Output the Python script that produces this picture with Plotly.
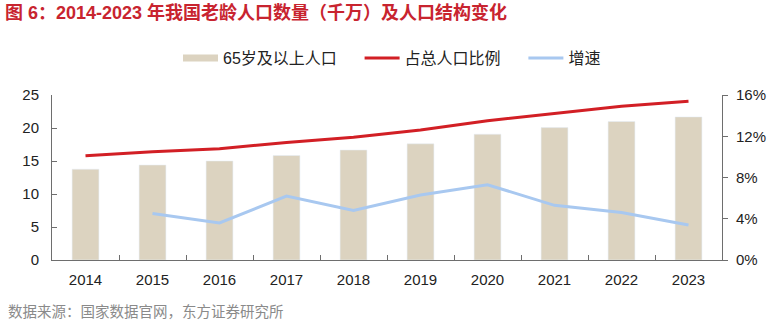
import plotly.graph_objects as go

years = ["2014", "2015", "2016", "2017", "2018", "2019", "2020", "2021", "2022", "2023"]
elderly = [13.76, 14.39, 15.00, 15.83, 16.66, 17.60, 19.06, 20.06, 20.98, 21.68]  # 千万
share = [0.101, 0.105, 0.108, 0.114, 0.119, 0.126, 0.135, 0.142, 0.149, 0.154]
growth_years = years[1:]
growth = [0.045, 0.036, 0.062, 0.048, 0.063, 0.073, 0.053, 0.046, 0.034]

left_ticks = [0, 5, 10, 15, 20, 25]
right_ticks = [0, 0.04, 0.08, 0.12, 0.16]
right_ticktext = ["0%", "4%", "8%", "12%", "16%"]

BAR = "#dcd3c0"
RED = "#d21f25"
BLUE = "#a8c8f0"
AXIS = "#6e6e6e"
FONT = "Liberation Sans, Arial, Noto Sans CJK SC, sans-serif"
PAD = "\u00a0" * 4  # extra spacing between legend entries

fig = go.Figure()
fig.add_trace(go.Bar(x=years, y=elderly, marker_color=BAR, width=0.4,
                     name="65岁及以上人口", showlegend=False))
# legend stand-in for the bar series (wide flat swatch as in the reference)
fig.add_trace(go.Scatter(x=[None], y=[None], mode="lines",
                         line=dict(color=BAR, width=7), name="65岁及以上人口" + PAD))
fig.add_trace(go.Scatter(x=years, y=share, mode="lines", yaxis="y2",
                         line=dict(color=RED, width=3), name="占总人口比例" + PAD))
fig.add_trace(go.Scatter(x=growth_years, y=growth, mode="lines", yaxis="y2",
                         line=dict(color=BLUE, width=3), name="增速"))

fig.update_layout(
    width=777, height=322,
    margin=dict(l=52, r=55, t=95, b=62),
    paper_bgcolor="white", plot_bgcolor="white",
    font=dict(family=FONT, size=15, color="#222222"),
    title=dict(text="<b>图 6：2014-2023 年我国老龄人口数量（千万）及人口结构变化</b>",
               x=5/777, xref="container", xanchor="left",
               y=1-13/322, yref="container", yanchor="middle",
               font=dict(size=18, color="#c8242f", family=FONT)),
    legend=dict(orientation="h", x=(178-52)/670, xanchor="left", y=1+(95-58)/165, yanchor="middle",
                font=dict(size=16, color="#222222"), itemwidth=35,
                bgcolor="rgba(0,0,0,0)"),
    xaxis=dict(type="category", showline=True, linecolor=AXIS, linewidth=1,
               ticks="inside", ticklen=5, tickcolor=AXIS, tickson="boundaries",
               showgrid=False, ticklabelstandoff=6, tickfont=dict(size=15, color="#222222")),
    yaxis=dict(range=[0, 25], tickvals=left_ticks, showline=True, linecolor=AXIS,
               ticks="inside", ticklen=5, tickcolor=AXIS, showgrid=False, zeroline=False,
               ticklabelstandoff=9, tickfont=dict(size=15, color="#222222")),
    yaxis2=dict(range=[0, 0.16], overlaying="y", side="right", tickvals=right_ticks,
                ticktext=right_ticktext, showline=True, linecolor=AXIS,
                ticks="outside", ticklen=5, tickcolor=AXIS, showgrid=False, zeroline=False,
                ticklabelstandoff=5, tickfont=dict(size=15, color="#222222")),
    annotations=[dict(text="数据来源：国家数据官网，东方证券研究所", xref="paper", yref="paper",
                      x=-46/670, xanchor="left", y=-(312-260)/165, yanchor="middle",
                      showarrow=False, font=dict(size=14.5, color="#8a8a8a", family=FONT))],
)

fig.write_html("out.html")
